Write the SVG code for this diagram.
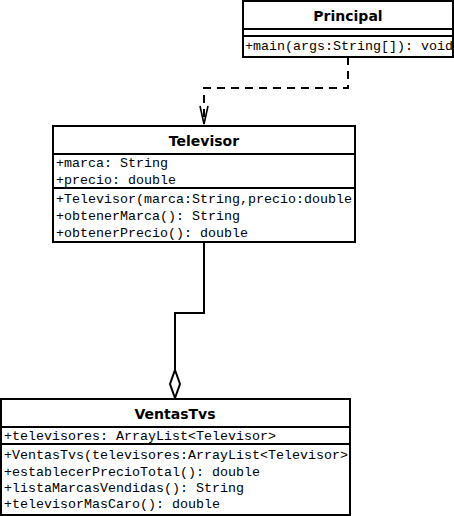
<svg xmlns="http://www.w3.org/2000/svg" width="454" height="516" viewBox="0 0 454 516">
<style>
.box{fill:#fff;stroke:#000;stroke-width:2}
.sep{stroke:#000;stroke-width:2}
.title{font-family:"DejaVu Sans",sans-serif;font-weight:bold;font-size:14px;text-anchor:middle;fill:#000}
.m{font-family:"Liberation Mono","Courier New",monospace;font-size:13.33px;fill:#000}
.conn{fill:none;stroke:#000;stroke-width:2}
</style>
<defs>
<clipPath id="cp1"><rect x="243" y="1" width="209" height="56"/></clipPath>
<clipPath id="cp2"><rect x="53" y="126" width="301" height="116"/></clipPath>
<clipPath id="cp3"><rect x="1" y="399" width="348" height="116"/></clipPath>
<marker id="open" viewBox="0 0 10 20" refX="5" refY="19" markerWidth="10" markerHeight="20" markerUnits="userSpaceOnUse" orient="auto-start-reverse">
<path d="M1,1 L5,19 L9,1" fill="none" stroke="#000" stroke-width="1.5"/>
</marker>
</defs>
<g id="connectors">
<path class="conn" d="M348,57 V88 H204 V124" stroke-dasharray="8,6"/>
<path d="M200,106 L204,124 L208,106" fill="none" stroke="#000" stroke-width="1.6"/>
<path class="conn" d="M204,242 V313 H175 V370"/>
<path d="M175,370 L180,384 L175,398 L170,384 Z" fill="#fff" stroke="#000" stroke-width="2"/>
</g>
<g id="Principal">
<rect class="box" x="243" y="1" width="210" height="56"/>
<line class="sep" x1="243" y1="29" x2="453" y2="29"/>
<line class="sep" x1="243" y1="36" x2="453" y2="36"/>
<text class="title" x="348" y="21">Principal</text>
<g clip-path="url(#cp1)"><text class="m" x="245" y="50">+main(args:String[]): void</text></g>
</g>
<g id="Televisor">
<rect class="box" x="53" y="126" width="302" height="116"/>
<line class="sep" x1="53" y1="154" x2="355" y2="154"/>
<line class="sep" x1="53" y1="188" x2="355" y2="188"/>
<text class="title" x="204" y="146">Televisor</text>
<g clip-path="url(#cp2)">
<text class="m" x="56" y="167">+marca: String</text>
<text class="m" x="56" y="184">+precio: double</text>
<text class="m" x="56" y="203">+Televisor(marca:String,precio:double)</text>
<text class="m" x="56" y="220">+obtenerMarca(): String</text>
<text class="m" x="56" y="237">+obtenerPrecio(): double</text>
</g>
</g>
<g id="VentasTvs">
<rect class="box" x="1" y="399" width="349" height="116"/>
<line class="sep" x1="1" y1="427" x2="350" y2="427"/>
<line class="sep" x1="1" y1="444" x2="350" y2="444"/>
<text class="title" x="175" y="419">VentasTvs</text>
<g clip-path="url(#cp3)">
<text class="m" x="4" y="440">+televisores: ArrayList&lt;Televisor&gt;</text>
<text class="m" x="4" y="459">+VentasTvs(televisores:ArrayList&lt;Televisor&gt;)</text>
<text class="m" x="4" y="476">+establecerPrecioTotal(): double</text>
<text class="m" x="4" y="492">+listaMarcasVendidas(): String</text>
<text class="m" x="4" y="508">+televisorMasCaro(): double</text>
</g>
</g>
</svg>
